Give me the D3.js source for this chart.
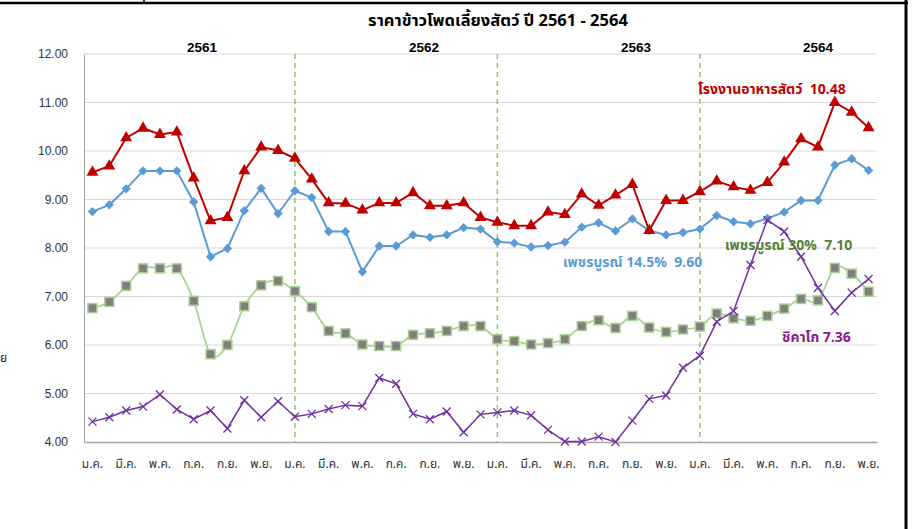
<!DOCTYPE html>
<html>
<head>
<meta charset="utf-8">
<script src="https://cdn.jsdelivr.net/npm/d3@7"></script>
<style>
  body { margin: 0; background: #fff; }
  text { font-family: Tahoma, "Noto Sans Thai", "Liberation Sans", Arial, sans-serif; }
</style>
</head>
<body>
<script>
// month names, only every other one gets a tick label
var monthNames = ["ม.ค.","ก.พ.","มี.ค.","เม.ย.","พ.ค.","มิ.ย.","ก.ค.","ส.ค.","ก.ย.","ต.ค.","พ.ย.","ธ.ค."];
var years = ["2561", "2562", "2563", "2564"];
var yTicks = [4, 5, 6, 7, 8, 9, 10, 11, 12];

// prices (baht/kg), Jan 2561 .. Nov 2564
var feedMill = [9.56,9.69,10.27,10.47,10.34,10.39,9.44,8.56,8.63,9.59,10.08,10.01,
                9.85,9.42,8.93,8.92,8.78,8.93,8.93,9.14,8.87,8.87,8.93,8.63,
                8.53,8.46,8.46,8.74,8.69,9.11,8.88,9.09,9.31,8.36,8.98,8.98,
                9.16,9.38,9.26,9.19,9.35,9.77,10.25,10.08,11.00,10.80,10.48];
var petch145 = [8.75,8.89,9.22,9.59,9.59,9.59,8.95,7.82,7.99,8.77,9.23,8.71,
                9.18,9.04,8.34,8.34,7.51,8.04,8.04,8.27,8.22,8.27,8.42,8.39,
                8.13,8.10,8.02,8.05,8.12,8.43,8.52,8.35,8.60,8.36,8.27,8.32,
                8.39,8.67,8.54,8.50,8.61,8.74,8.98,8.98,9.71,9.84,9.60];
var petch30 = [6.76,6.89,7.22,7.58,7.58,7.58,6.91,5.81,6.00,6.80,7.23,7.32,
               7.11,6.78,6.29,6.24,6.01,5.98,5.98,6.21,6.24,6.29,6.39,6.39,
               6.12,6.08,6.01,6.04,6.12,6.39,6.51,6.35,6.60,6.36,6.27,6.32,
               6.38,6.65,6.55,6.50,6.60,6.75,6.95,6.92,7.59,7.47,7.10];
var chicago = [4.42,4.51,4.65,4.73,4.98,4.67,4.47,4.65,4.28,4.86,4.51,4.84,
               4.52,4.58,4.68,4.76,4.74,5.32,5.20,4.58,4.47,4.63,4.20,4.57,
               4.61,4.65,4.55,4.25,4.01,4.01,4.11,4.00,4.44,4.89,4.96,5.53,
               5.78,6.48,6.70,7.65,8.58,8.34,7.82,7.18,6.70,7.08,7.36];

var w = 923;
var h = 529;
var svg = d3.select("body").append("svg").attr("width", w).attr("height", h);

var idx = d3.range(feedMill.length);
var x = d3.scaleBand().domain(idx).range([84, 877]);
var y = d3.scaleLinear().domain([4, 12]).range([442, 54]);
var cx = function(i) { return x(i) + x.bandwidth() / 2; };

// frame bits at the edge of the picture
svg.append("line").attr("x1", 0).attr("x2", 908).attr("y1", 3).attr("y2", 3)
   .attr("stroke", "#000").attr("stroke-width", 2.5);
svg.append("line").attr("x1", 144).attr("x2", 144).attr("y1", 0).attr("y2", 3)
   .attr("stroke", "#000").attr("stroke-width", 1.5);
svg.append("line").attr("x1", 906).attr("x2", 906).attr("y1", 0).attr("y2", h)
   .attr("stroke", "#000").attr("stroke-width", 3);
svg.append("text").attr("x", 0).attr("y", 362)
   .attr("font-size", 12).attr("fill", "#222").text("ย");

// title
svg.append("text").attr("x", 498).attr("y", 26).attr("text-anchor", "middle")
   .attr("font-size", 16.5).attr("font-weight", "bold").attr("fill", "#000")
   .text("ราคาข้าวโพดเลี้ยงสัตว์ ปี 2561 - 2564");

// gridlines
svg.append("g").selectAll("line").data(yTicks.slice(1)).enter().append("line")
   .attr("x1", 84).attr("x2", 877)
   .attr("y1", function(d) { return y(d); }).attr("y2", function(d) { return y(d); })
   .attr("stroke", "#d9d9d9").attr("stroke-width", 1);

// y axis
var yAxis = svg.append("g").attr("transform", "translate(84,0)")
   .call(d3.axisLeft(y).tickValues(yTicks).tickFormat(d3.format(".2f")).tickSize(0).tickPadding(16));
yAxis.select(".domain").attr("stroke", "#a6a6a6");
yAxis.selectAll("text").attr("font-size", 12).attr("fill", "#333")
   .style("font-family", "'Liberation Sans', Arial, sans-serif");

// x axis
var xAxis = svg.append("g").attr("transform", "translate(0,442)")
   .call(d3.axisBottom(x).tickSize(0).tickPadding(17)
      .tickValues(idx.filter(function(i) { return i % 2 == 0; }))
      .tickFormat(function(i) { return monthNames[i % 12]; }));
xAxis.select(".domain").attr("stroke", "#a6a6a6").attr("stroke-width", 1.5);
xAxis.selectAll("text").attr("font-size", 12).attr("fill", "#333");

// year separators
var yearStarts = [12, 24, 36];
svg.append("g").selectAll("line").data(yearStarts).enter().append("line")
   .attr("x1", function(d) { return cx(d); }).attr("x2", function(d) { return cx(d); })
   .attr("y1", 54).attr("y2", 442)
   .attr("stroke", "#8fc46a").attr("stroke-width", 1.5).attr("stroke-dasharray", "5,4");

// year labels
var yearX = [202, 424, 636, 818];
svg.append("g").selectAll("text").data(years).enter().append("text")
   .attr("x", function(d, i) { return yearX[i]; }).attr("y", 52)
   .attr("text-anchor", "middle").attr("font-size", 13.5).attr("font-weight", "bold")
   .style("font-family", "'Liberation Sans', Arial, sans-serif")
   .text(function(d) { return d; });

function drawLine(data, color, width, curve) {
  var line = d3.line()
     .x(function(d, i) { return cx(i); })
     .y(function(d) { return y(d); })
     .curve(curve || d3.curveLinear);
  svg.append("path").datum(data).attr("d", line)
     .attr("fill", "none").attr("stroke", color).attr("stroke-width", width);
}

// green: smoothed line, grey squares
drawLine(petch30, "#a9d18e", 1.75, d3.curveCardinal.tension(0));
svg.append("g").selectAll("rect").data(petch30).enter().append("rect")
   .attr("x", function(d, i) { return cx(i) - 4.5; })
   .attr("y", function(d) { return y(d) - 4.5; })
   .attr("width", 9).attr("height", 9)
   .attr("fill", "#7f7f7f").attr("stroke", "#a9d18e").attr("stroke-width", 1.5);

// blue diamonds
drawLine(petch145, "#5b9bd5", 2);
svg.append("g").selectAll("path").data(petch145).enter().append("path")
   .attr("d", d3.symbol().type(d3.symbolSquare).size(44))
   .attr("transform", function(d, i) { return "translate(" + cx(i) + "," + y(d) + ") rotate(45)"; })
   .attr("fill", "#5b9bd5");

// red triangles
drawLine(feedMill, "#c00000", 2);
svg.append("g").selectAll("path").data(feedMill).enter().append("path")
   .attr("d", d3.symbol().type(d3.symbolTriangle).size(62))
   .attr("transform", function(d, i) { return "translate(" + cx(i) + "," + y(d) + ")"; })
   .attr("fill", "#c00000");

// purple crosses
drawLine(chicago, "#7030a0", 1.5);
svg.append("g").selectAll("path").data(chicago).enter().append("path")
   .attr("d", "M-4,-4L4,4M-4,4L4,-4")
   .attr("transform", function(d, i) { return "translate(" + cx(i) + "," + y(d) + ")"; })
   .attr("stroke", "#7030a0").attr("stroke-width", 1.3).attr("fill", "none");

// end-of-series labels
var last = feedMill.length - 1;
var gap = "\u00a0\u00a0";
var labels = [
  {t: "โรงงานอาหารสัตว์" + gap + feedMill[last].toFixed(2), x: 698, y: 94, c: "#c00000"},
  {t: "เพชรบูรณ์ 14.5%" + gap + petch145[last].toFixed(2), x: 563, y: 267, c: "#5b9bd5"},
  {t: "เพชรบูรณ์ 30%" + gap + petch30[last].toFixed(2), x: 725, y: 250, c: "#548235"},
  {t: "ชิคาโก " + chicago[last].toFixed(2), x: 782, y: 342, c: "#8b1a8b"}
];
svg.append("g").selectAll("text").data(labels).enter().append("text")
   .attr("x", function(d) { return d.x; }).attr("y", function(d) { return d.y; })
   .attr("font-size", 14).attr("font-weight", "bold")
   .attr("fill", function(d) { return d.c; })
   .text(function(d) { return d.t; });
</script>
</body>
</html>
